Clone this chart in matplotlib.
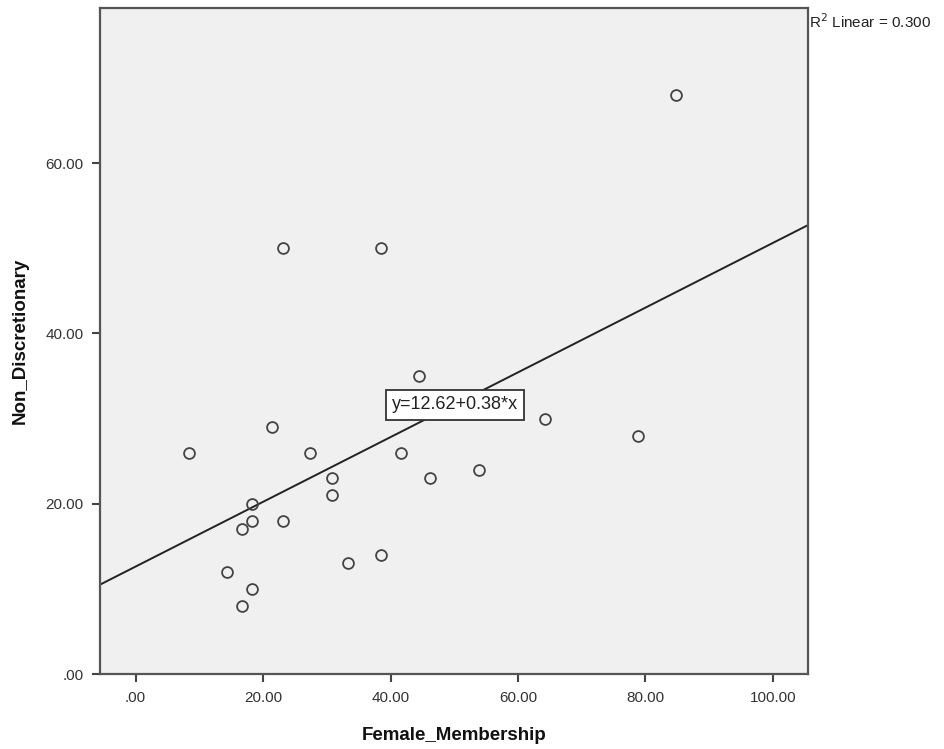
import numpy as np
import matplotlib
matplotlib.use("Agg")
import matplotlib.pyplot as plt

plt.rcParams['font.family'] = ['Liberation Sans', 'DejaVu Sans']

female_membership = [84.8, 23.1, 38.5, 44.5, 64.3, 78.8, 8.4, 21.4, 27.3, 41.6,
                     53.9, 46.2, 30.8, 30.8, 18.2, 18.2, 23.1, 16.7, 14.3, 18.2,
                     16.7, 33.3, 38.5]
non_discretionary = [68, 50, 50, 35, 30, 28, 26, 29, 26, 26,
                     24, 23, 23, 21, 20, 18, 18, 17, 12, 10,
                     8, 13, 14]
intercept = 12.62
slope = 0.38
r2_text = "R$^2$ Linear = 0.300"
eq_text = "y=12.62+0.38*x"
x_ticks = [0, 20, 40, 60, 80, 100]
y_ticks = [0, 20, 40, 60]

def fmt(v):
    s = f"{v:.2f}"
    return s[1:] if s.startswith("0") else s

fig = plt.figure(figsize=(9.44, 7.49), dpi=100)
ax = fig.add_axes([100/944, 75/749, 708/944, 666/749])
ax.set_facecolor('#f0f0f0')

xlim = (-5.6, 105.5)
ylim = (0, 78.2)
ax.set_xlim(*xlim)
ax.set_ylim(*ylim)

xs = np.array(xlim)
ax.plot(xs, intercept + slope * xs, color='#222222', lw=1.4, zorder=2)

ax.plot(female_membership, non_discretionary, linestyle='none', marker='o',
        markersize=7.8, markerfacecolor='none', markeredgecolor='#444444',
        markeredgewidth=1.3, zorder=3)

ax.text(50.1, 31.6, eq_text, ha='center', va='center', fontsize=13, color='#222222',
        bbox=dict(boxstyle='square,pad=0.35', facecolor='white', edgecolor='#333333', lw=1.3),
        zorder=4)

ax.set_xticks(x_ticks)
ax.set_xticklabels([fmt(v) for v in x_ticks])
ax.set_yticks(y_ticks)
ax.set_yticklabels([fmt(v) for v in y_ticks])
ax.tick_params(axis='both', direction='out', length=6, width=1.5, color='#444444',
               labelsize=11, labelcolor='#333333', pad=6)
for sp in ax.spines.values():
    sp.set_color('#555555')
    sp.set_linewidth(1.6)

ax.set_xlabel('Female_Membership', fontsize=13.5, fontweight='bold', color='#111111', labelpad=16)
ax.set_ylabel('Non_Discretionary', fontsize=13.5, fontweight='bold', color='#111111', labelpad=12)

fig.text(809/944, 1 - 22/749, r2_text, fontsize=11, color='#222222', ha='left', va='center')

fig.savefig('out.png', dpi=100)
